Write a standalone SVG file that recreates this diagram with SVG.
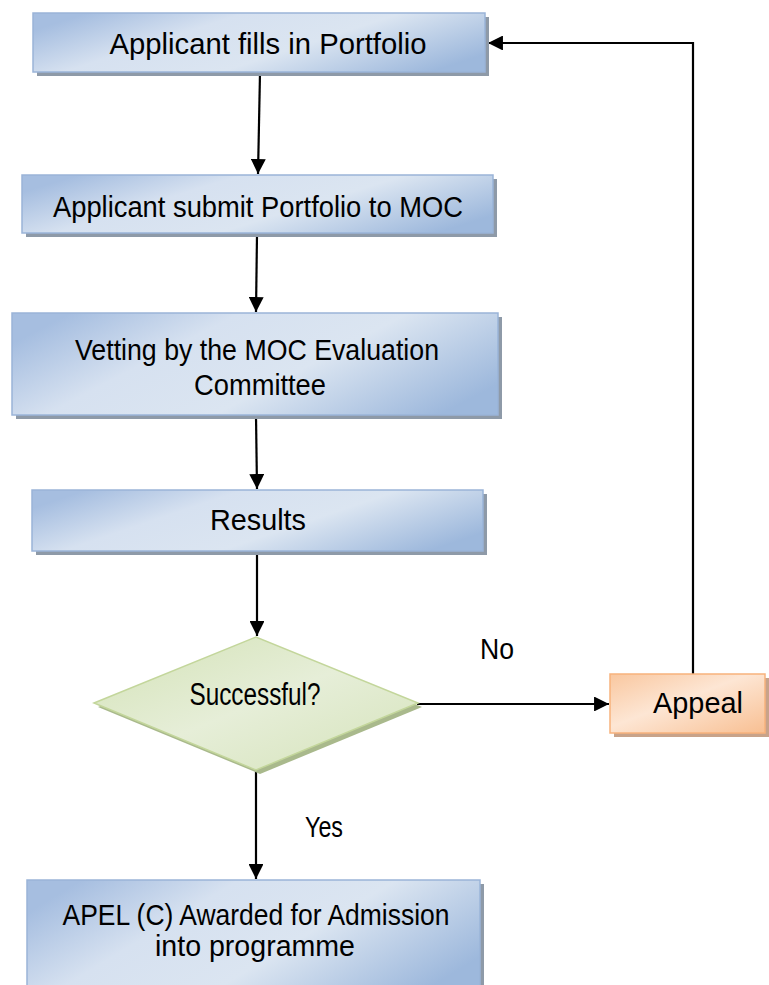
<svg xmlns="http://www.w3.org/2000/svg" width="769" height="985" viewBox="0 0 769 985">
<defs>
<linearGradient id="blue" x1="0" y1="0.3" x2="1" y2="0.7">
<stop offset="0" stop-color="#a6bee0"/>
<stop offset="0.3" stop-color="#d6e1f0"/>
<stop offset="0.6" stop-color="#dbe5f1"/>
<stop offset="1" stop-color="#9db8dc"/>
</linearGradient>
<linearGradient id="green" x1="0" y1="0" x2="1" y2="1">
<stop offset="0" stop-color="#d3e2b6"/>
<stop offset="0.5" stop-color="#e6eed8"/>
<stop offset="1" stop-color="#d5e3ba"/>
</linearGradient>
<linearGradient id="orange" x1="0" y1="0" x2="1" y2="1">
<stop offset="0" stop-color="#f9c79f"/>
<stop offset="0.45" stop-color="#fde6d4"/>
<stop offset="1" stop-color="#f8bf92"/>
</linearGradient>
<marker id="ah" viewBox="0 0 10 10" refX="10" refY="5" markerWidth="6.8" markerHeight="6.8" markerUnits="strokeWidth" orient="auto">
<path d="M0,0 L10,5 L0,10 z" fill="#000"/>
</marker>
</defs>
<style>
.box{fill:url(#blue);stroke:#9ab4d8;stroke-width:1.5}
.sh{fill:#8e9aa8}
.t{font-family:"Liberation Sans",Arial,sans-serif;font-size:30px;fill:#000;text-anchor:middle}
.big{font-size:31px}
.c{fill:none;stroke:#000;stroke-width:2.2}
</style>
<g id="connectors">
<line class="c" x1="260" y1="73" x2="258" y2="174" marker-end="url(#ah)"/>
<line class="c" x1="257" y1="234" x2="256" y2="312" marker-end="url(#ah)"/>
<line class="c" x1="256" y1="416" x2="257" y2="489" marker-end="url(#ah)"/>
<line class="c" x1="257" y1="552" x2="257" y2="636" marker-end="url(#ah)"/>
<line class="c" x1="417" y1="704" x2="609" y2="704" marker-end="url(#ah)"/>
<polyline class="c" points="693,674 693,43 488,43" marker-end="url(#ah)"/>
<line class="c" x1="256" y1="771" x2="256" y2="879" marker-end="url(#ah)"/>
</g>
<g id="n1">
<rect class="sh" x="37" y="17" width="452" height="59"/>
<rect class="box" x="33" y="13" width="452" height="59"/>
<text class="t" x="268" y="54" textLength="317" lengthAdjust="spacingAndGlyphs">Applicant fills in Portfolio</text>
</g>
<g id="n2">
<rect class="sh" x="26" y="179" width="471" height="58"/>
<rect class="box" x="22" y="175" width="471" height="58"/>
<text class="t" x="258" y="217" textLength="410" lengthAdjust="spacingAndGlyphs">Applicant submit Portfolio to MOC</text>
</g>
<g id="n3">
<rect class="sh" x="16" y="317" width="486" height="102"/>
<rect class="box" x="12" y="313" width="486" height="102"/>
<text class="t" x="257" y="360" textLength="364" lengthAdjust="spacingAndGlyphs">Vetting by the MOC Evaluation</text>
<text class="t" x="260" y="395" textLength="132" lengthAdjust="spacingAndGlyphs">Committee</text>
</g>
<g id="n4">
<rect class="sh" x="36" y="494" width="451" height="61"/>
<rect class="box" x="32" y="490" width="451" height="61"/>
<text class="t" x="258" y="530" textLength="96" lengthAdjust="spacingAndGlyphs">Results</text>
</g>
<g id="n5">
<polygon points="98,707 260,641 422,707 260,774" fill="#a9b98c"/>
<polygon points="94,703 256,637 418,703 256,770" fill="url(#green)" stroke="#c3d69b" stroke-width="1.5"/>
<text class="t big" x="255" y="705" textLength="131" lengthAdjust="spacingAndGlyphs">Successful?</text>
</g>
<g id="n6">
<rect x="614" y="678" width="155" height="59" fill="#c8a38a"/>
<rect x="610" y="674" width="155" height="59" fill="url(#orange)" stroke="#f7b27c" stroke-width="1.5"/>
<text class="t" x="698" y="713" textLength="90" lengthAdjust="spacingAndGlyphs">Appeal</text>
</g>
<g id="n7">
<rect class="sh" x="31" y="884" width="453" height="110"/>
<rect class="box" x="27" y="880" width="453" height="110"/>
<text class="t" x="256" y="925" textLength="387" lengthAdjust="spacingAndGlyphs">APEL (C) Awarded for Admission</text>
<text class="t" x="255" y="956" textLength="200" lengthAdjust="spacingAndGlyphs">into programme</text>
</g>
<g id="labels">
<text class="t" x="497" y="659" textLength="34" lengthAdjust="spacingAndGlyphs">No</text>
<text class="t" x="324" y="837" textLength="38" lengthAdjust="spacingAndGlyphs">Yes</text>
</g>
</svg>
